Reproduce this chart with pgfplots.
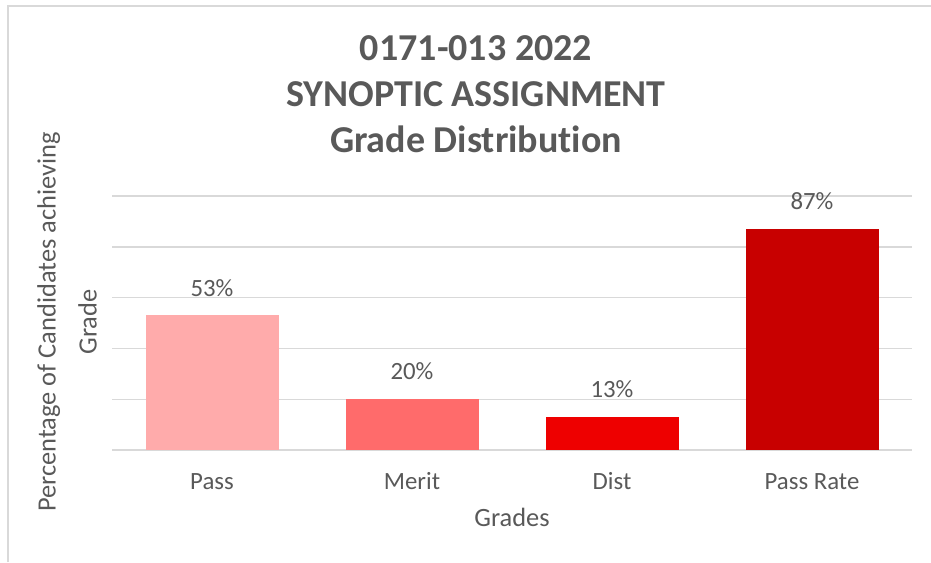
\documentclass[border=0pt]{standalone}
\usepackage{fontspec}
\setmainfont{Carlito}[Ligatures=NoCommon]
\usepackage{pgfplots}
\pgfplotsset{compat=1.18}
\definecolor{txt}{HTML}{595959}
\definecolor{gridc}{HTML}{D9D9D9}
\definecolor{cPass}{HTML}{FFABAB}
\definecolor{cMerit}{HTML}{FF6B6B}
\definecolor{cDist}{HTML}{EE0000}
\definecolor{cRate}{HTML}{C80000}
\begin{document}
\begin{tikzpicture}
% page = 931x562 px at 0.5pt per px
\useasboundingbox (0,0) rectangle (465.5pt,-281pt);
\draw[gridc, line width=0.8pt] (4pt,-281pt) -- (4pt,-3pt) -- (465.5pt,-3pt);
\node[txt, font=\fontsize{19}{23}\selectfont\bfseries, align=center] at (238pt,-47pt)
  {0171-013 2022\\SYNOPTIC ASSIGNMENT\\Grade Distribution};
\node[txt, font=\fontsize{13.2}{20.5}\selectfont, align=center, rotate=90] at (33.5pt,-161pt)
  {Percentage of Candidates achieving\\Grade};
\begin{axis}[
    at={(56pt,-225pt)}, anchor=south west,
    scale only axis, width=400pt, height=127pt,
    ybar, bar width=66.5pt,
    xmin=-0.5, xmax=3.5, ymin=0, ymax=100,
    xtick={0,1,2,3},
    xticklabels={Pass, Merit, Dist, Pass Rate},
    ytick={0,20,...,100}, yticklabels={},
    ymajorgrids, grid style={gridc, line width=0.7pt},
    major tick length=0pt,
    axis line style={draw=none},
    ticklabel style={txt, font=\fontsize{12.4}{14}\selectfont},
    xticklabel style={yshift=-7pt, text height=9pt, text depth=2.5pt},
    xlabel={Grades}, xlabel style={txt, font=\fontsize{13.2}{15}\selectfont, yshift=0pt},
    nodes near coords={\pgfmathprintnumber{\pgfplotspointmeta}\%},
    nodes near coords style={txt, font=\fontsize{12.4}{14}\selectfont, yshift=6pt},
    /pgf/number format/assume math mode=true,
    clip=false,
]
\addplot[fill=cPass, draw=none, bar shift=0pt] coordinates {(0,53)};
\addplot[fill=cMerit, draw=none, bar shift=0pt] coordinates {(1,20)};
\addplot[fill=cDist, draw=none, bar shift=0pt] coordinates {(2,13)};
\addplot[fill=cRate, draw=none, bar shift=0pt] coordinates {(3,87)};
\end{axis}
\end{tikzpicture}
\end{document}
